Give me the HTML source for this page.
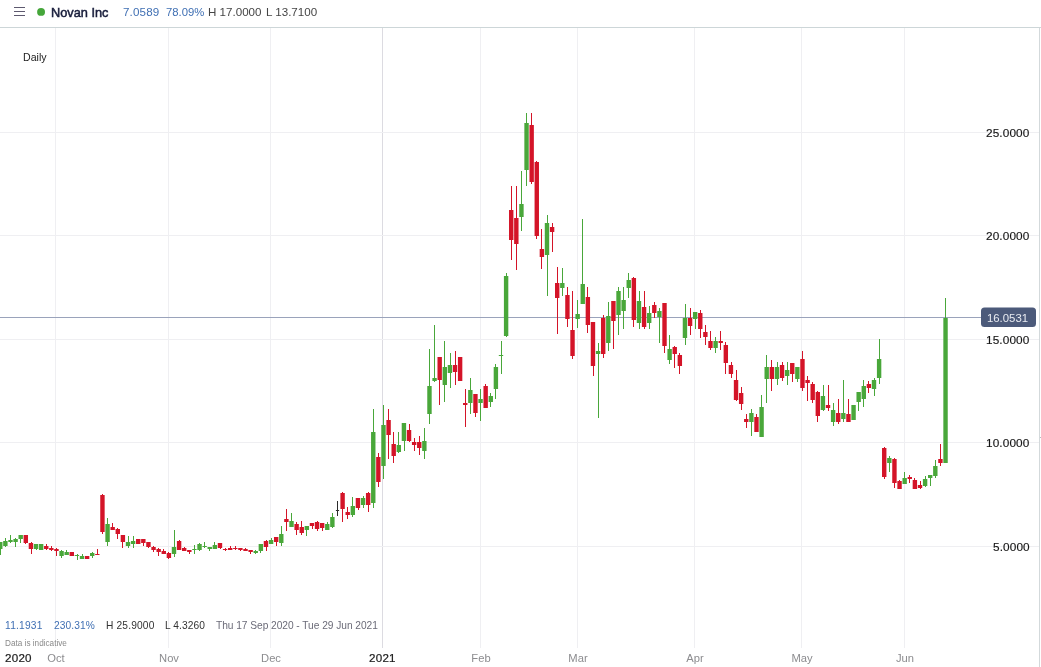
<!DOCTYPE html>
<html><head><meta charset="utf-8"><style>
*{margin:0;padding:0;box-sizing:border-box}
html,body{-webkit-font-smoothing:antialiased;width:1041px;height:667px;overflow:hidden;background:#fff;font-family:"Liberation Sans",sans-serif;}
#wrap{position:relative;width:1041px;height:667px;overflow:hidden}
.t,.yl,.ml{will-change:transform}
svg{position:absolute;left:0;top:0}
.t{position:absolute;white-space:nowrap;line-height:1}
.yl{position:absolute;right:11.3px;font-size:11.8px;letter-spacing:0.12px;color:#161616;-webkit-text-stroke:0.15px #161616;line-height:14px;white-space:nowrap}
.ml{position:absolute;top:651.4px;width:60px;text-align:center;font-size:11.2px;color:#8c8c8f;line-height:14px}
</style></head><body><div id="wrap">
<svg width="1041" height="667" viewBox="0 0 1041 667" shape-rendering="crispEdges">
<rect x="0" y="27" width="1041" height="1" fill="#cdd6d8"/>
<rect x="1039" y="28" width="1" height="639" fill="#d3d9db"/>
<rect x="1040" y="437" width="1" height="1" fill="#b8bcc0"/>
<rect x="55" y="28" width="1" height="620" fill="#efeff2"/>
<rect x="168" y="28" width="1" height="620" fill="#efeff2"/>
<rect x="270" y="28" width="1" height="620" fill="#efeff2"/>
<rect x="382" y="28" width="1" height="620" fill="#dcdbe1"/>
<rect x="480" y="28" width="1" height="620" fill="#efeff2"/>
<rect x="577" y="28" width="1" height="620" fill="#efeff2"/>
<rect x="694" y="28" width="1" height="620" fill="#efeff2"/>
<rect x="801" y="28" width="1" height="620" fill="#efeff2"/>
<rect x="904" y="28" width="1" height="620" fill="#efeff2"/>
<rect x="0" y="132" width="1039" height="1" fill="#efeff2"/>
<rect x="0" y="235" width="1039" height="1" fill="#efeff2"/>
<rect x="0" y="339" width="1039" height="1" fill="#efeff2"/>
<rect x="0" y="442" width="1039" height="1" fill="#efeff2"/>
<rect x="0" y="546" width="1039" height="1" fill="#efeff2"/>
<rect x="0" y="317" width="982" height="1" fill="#9aa3bb"/>
<rect x="0" y="542" width="1" height="13" fill="#49a73a"/>
<rect x="-1.94" y="542" width="4.4" height="7" fill="#49a73a" shape-rendering="geometricPrecision"/>
<rect x="5" y="538" width="1" height="9" fill="#49a73a"/>
<rect x="3.17" y="541" width="4.4" height="5" fill="#49a73a" shape-rendering="geometricPrecision"/>
<rect x="10" y="535" width="1" height="8" fill="#49a73a"/>
<rect x="8.28" y="540" width="4.4" height="2" fill="#49a73a" shape-rendering="geometricPrecision"/>
<rect x="15" y="538" width="1" height="9" fill="#49a73a"/>
<rect x="13.39" y="539" width="4.4" height="3" fill="#49a73a" shape-rendering="geometricPrecision"/>
<rect x="20" y="535" width="1" height="8" fill="#49a73a"/>
<rect x="18.50" y="535" width="4.4" height="4" fill="#49a73a" shape-rendering="geometricPrecision"/>
<rect x="25" y="535" width="1" height="9" fill="#d41428"/>
<rect x="23.61" y="535" width="4.4" height="8" fill="#d41428" shape-rendering="geometricPrecision"/>
<rect x="31" y="542" width="1" height="12" fill="#d41428"/>
<rect x="28.72" y="543" width="4.4" height="6" fill="#d41428" shape-rendering="geometricPrecision"/>
<rect x="36" y="544" width="1" height="6" fill="#49a73a"/>
<rect x="33.83" y="544" width="4.4" height="5" fill="#49a73a" shape-rendering="geometricPrecision"/>
<rect x="41" y="544" width="1" height="6" fill="#49a73a"/>
<rect x="38.94" y="544" width="4.4" height="6" fill="#49a73a" shape-rendering="geometricPrecision"/>
<rect x="46" y="544" width="1" height="6" fill="#d41428"/>
<rect x="44.05" y="546" width="4.4" height="3" fill="#d41428" shape-rendering="geometricPrecision"/>
<rect x="51" y="546" width="1" height="5" fill="#d41428"/>
<rect x="49.16" y="548" width="4.4" height="2" fill="#d41428" shape-rendering="geometricPrecision"/>
<rect x="56" y="548" width="1" height="8" fill="#d41428"/>
<rect x="54.27" y="549" width="4.4" height="2" fill="#d41428" shape-rendering="geometricPrecision"/>
<rect x="61" y="550" width="1" height="8" fill="#49a73a"/>
<rect x="59.37" y="551" width="4.4" height="5" fill="#49a73a" shape-rendering="geometricPrecision"/>
<rect x="66" y="550" width="1" height="5" fill="#49a73a"/>
<rect x="64.48" y="552" width="4.4" height="3" fill="#49a73a" shape-rendering="geometricPrecision"/>
<rect x="71" y="552" width="1" height="4" fill="#d41428"/>
<rect x="69.59" y="552" width="4.4" height="4" fill="#d41428" shape-rendering="geometricPrecision"/>
<rect x="77" y="554" width="1" height="6" fill="#49a73a"/>
<rect x="74.70" y="555" width="4.4" height="1" fill="#49a73a" shape-rendering="geometricPrecision"/>
<rect x="82" y="554" width="1" height="5" fill="#49a73a"/>
<rect x="79.81" y="556" width="4.4" height="3" fill="#49a73a" shape-rendering="geometricPrecision"/>
<rect x="87" y="556" width="1" height="3" fill="#d41428"/>
<rect x="84.92" y="556" width="4.4" height="3" fill="#d41428" shape-rendering="geometricPrecision"/>
<rect x="92" y="552" width="1" height="6" fill="#49a73a"/>
<rect x="90.03" y="553" width="4.4" height="3" fill="#49a73a" shape-rendering="geometricPrecision"/>
<rect x="97" y="549" width="1" height="6" fill="#d41428"/>
<rect x="95.14" y="554" width="4.4" height="1" fill="#d41428" shape-rendering="geometricPrecision"/>
<rect x="102" y="494" width="1" height="40" fill="#d41428"/>
<rect x="100.25" y="495" width="4.4" height="37" fill="#d41428" shape-rendering="geometricPrecision"/>
<rect x="107" y="518" width="1" height="28" fill="#49a73a"/>
<rect x="105.36" y="524" width="4.4" height="18" fill="#49a73a" shape-rendering="geometricPrecision"/>
<rect x="112" y="523" width="1" height="7" fill="#d41428"/>
<rect x="110.47" y="527" width="4.4" height="3" fill="#d41428" shape-rendering="geometricPrecision"/>
<rect x="117" y="528" width="1" height="11" fill="#d41428"/>
<rect x="115.58" y="529" width="4.4" height="5" fill="#d41428" shape-rendering="geometricPrecision"/>
<rect x="122" y="535" width="1" height="13" fill="#d41428"/>
<rect x="120.69" y="535" width="4.4" height="7" fill="#d41428" shape-rendering="geometricPrecision"/>
<rect x="128" y="536" width="1" height="12" fill="#49a73a"/>
<rect x="125.80" y="542" width="4.4" height="4" fill="#49a73a" shape-rendering="geometricPrecision"/>
<rect x="133" y="536" width="1" height="12" fill="#49a73a"/>
<rect x="130.91" y="541" width="4.4" height="3" fill="#49a73a" shape-rendering="geometricPrecision"/>
<rect x="138" y="539" width="1" height="5" fill="#d41428"/>
<rect x="136.02" y="539" width="4.4" height="5" fill="#d41428" shape-rendering="geometricPrecision"/>
<rect x="143" y="539" width="1" height="7" fill="#d41428"/>
<rect x="141.13" y="539" width="4.4" height="4" fill="#d41428" shape-rendering="geometricPrecision"/>
<rect x="148" y="542" width="1" height="6" fill="#d41428"/>
<rect x="146.24" y="542" width="4.4" height="5" fill="#d41428" shape-rendering="geometricPrecision"/>
<rect x="153" y="546" width="1" height="6" fill="#d41428"/>
<rect x="151.35" y="547" width="4.4" height="3" fill="#d41428" shape-rendering="geometricPrecision"/>
<rect x="158" y="548" width="1" height="8" fill="#d41428"/>
<rect x="156.46" y="549" width="4.4" height="3" fill="#d41428" shape-rendering="geometricPrecision"/>
<rect x="163" y="549" width="1" height="5" fill="#d41428"/>
<rect x="161.57" y="551" width="4.4" height="3" fill="#d41428" shape-rendering="geometricPrecision"/>
<rect x="168" y="552" width="1" height="7" fill="#d41428"/>
<rect x="166.68" y="553" width="4.4" height="5" fill="#d41428" shape-rendering="geometricPrecision"/>
<rect x="174" y="530" width="1" height="27" fill="#49a73a"/>
<rect x="171.79" y="547" width="4.4" height="7" fill="#49a73a" shape-rendering="geometricPrecision"/>
<rect x="179" y="540" width="1" height="10" fill="#d41428"/>
<rect x="176.90" y="541" width="4.4" height="9" fill="#d41428" shape-rendering="geometricPrecision"/>
<rect x="184" y="547" width="1" height="4" fill="#d41428"/>
<rect x="182.01" y="548" width="4.4" height="3" fill="#d41428" shape-rendering="geometricPrecision"/>
<rect x="189" y="550" width="1" height="4" fill="#d41428"/>
<rect x="187.11" y="550" width="4.4" height="2" fill="#d41428" shape-rendering="geometricPrecision"/>
<rect x="194" y="545" width="1" height="9" fill="#49a73a"/>
<rect x="192.22" y="549" width="4.4" height="1" fill="#49a73a" shape-rendering="geometricPrecision"/>
<rect x="199" y="543" width="1" height="8" fill="#49a73a"/>
<rect x="197.33" y="544" width="4.4" height="6" fill="#49a73a" shape-rendering="geometricPrecision"/>
<rect x="204" y="542" width="1" height="6" fill="#49a73a"/>
<rect x="202.44" y="546" width="4.4" height="1" fill="#49a73a" shape-rendering="geometricPrecision"/>
<rect x="209" y="547" width="1" height="4" fill="#49a73a"/>
<rect x="207.55" y="547" width="4.4" height="2" fill="#49a73a" shape-rendering="geometricPrecision"/>
<rect x="214" y="542" width="1" height="7" fill="#49a73a"/>
<rect x="212.66" y="545" width="4.4" height="4" fill="#49a73a" shape-rendering="geometricPrecision"/>
<rect x="220" y="543" width="1" height="6" fill="#d41428"/>
<rect x="217.77" y="543" width="4.4" height="5" fill="#d41428" shape-rendering="geometricPrecision"/>
<rect x="225" y="548" width="1" height="3" fill="#d41428"/>
<rect x="222.88" y="549" width="4.4" height="1" fill="#d41428" shape-rendering="geometricPrecision"/>
<rect x="230" y="546" width="1" height="4" fill="#d41428"/>
<rect x="227.99" y="548" width="4.4" height="2" fill="#d41428" shape-rendering="geometricPrecision"/>
<rect x="235" y="546" width="1" height="4" fill="#d41428"/>
<rect x="233.10" y="548" width="4.4" height="1" fill="#d41428" shape-rendering="geometricPrecision"/>
<rect x="240" y="548" width="1" height="3" fill="#d41428"/>
<rect x="238.21" y="548" width="4.4" height="2" fill="#d41428" shape-rendering="geometricPrecision"/>
<rect x="245" y="548" width="1" height="3" fill="#d41428"/>
<rect x="243.32" y="549" width="4.4" height="2" fill="#d41428" shape-rendering="geometricPrecision"/>
<rect x="250" y="550" width="1" height="4" fill="#d41428"/>
<rect x="248.43" y="550" width="4.4" height="2" fill="#d41428" shape-rendering="geometricPrecision"/>
<rect x="255" y="550" width="1" height="4" fill="#49a73a"/>
<rect x="253.54" y="551" width="4.4" height="2" fill="#49a73a" shape-rendering="geometricPrecision"/>
<rect x="260" y="544" width="1" height="9" fill="#49a73a"/>
<rect x="258.65" y="544" width="4.4" height="7" fill="#49a73a" shape-rendering="geometricPrecision"/>
<rect x="266" y="540" width="1" height="11" fill="#d41428"/>
<rect x="263.76" y="541" width="4.4" height="6" fill="#d41428" shape-rendering="geometricPrecision"/>
<rect x="271" y="538" width="1" height="6" fill="#49a73a"/>
<rect x="268.87" y="540" width="4.4" height="4" fill="#49a73a" shape-rendering="geometricPrecision"/>
<rect x="276" y="537" width="1" height="9" fill="#d41428"/>
<rect x="273.98" y="537" width="4.4" height="5" fill="#d41428" shape-rendering="geometricPrecision"/>
<rect x="281" y="526" width="1" height="20" fill="#49a73a"/>
<rect x="279.09" y="534" width="4.4" height="9" fill="#49a73a" shape-rendering="geometricPrecision"/>
<rect x="286" y="509" width="1" height="22" fill="#d41428"/>
<rect x="284.20" y="519" width="4.4" height="3" fill="#d41428" shape-rendering="geometricPrecision"/>
<rect x="291" y="513" width="1" height="14" fill="#49a73a"/>
<rect x="289.31" y="521" width="4.4" height="6" fill="#49a73a" shape-rendering="geometricPrecision"/>
<rect x="296" y="522" width="1" height="13" fill="#d41428"/>
<rect x="294.42" y="524" width="4.4" height="6" fill="#d41428" shape-rendering="geometricPrecision"/>
<rect x="301" y="521" width="1" height="14" fill="#d41428"/>
<rect x="299.53" y="527" width="4.4" height="6" fill="#d41428" shape-rendering="geometricPrecision"/>
<rect x="306" y="526" width="1" height="10" fill="#49a73a"/>
<rect x="304.64" y="526" width="4.4" height="4" fill="#49a73a" shape-rendering="geometricPrecision"/>
<rect x="312" y="523" width="1" height="6" fill="#d41428"/>
<rect x="309.75" y="523" width="4.4" height="3" fill="#d41428" shape-rendering="geometricPrecision"/>
<rect x="317" y="521" width="1" height="10" fill="#d41428"/>
<rect x="314.85" y="522" width="4.4" height="7" fill="#d41428" shape-rendering="geometricPrecision"/>
<rect x="322" y="523" width="1" height="8" fill="#d41428"/>
<rect x="319.96" y="523" width="4.4" height="5" fill="#d41428" shape-rendering="geometricPrecision"/>
<rect x="327" y="522" width="1" height="8" fill="#49a73a"/>
<rect x="325.07" y="524" width="4.4" height="6" fill="#49a73a" shape-rendering="geometricPrecision"/>
<rect x="332" y="513" width="1" height="15" fill="#49a73a"/>
<rect x="330.18" y="517" width="4.4" height="10" fill="#49a73a" shape-rendering="geometricPrecision"/>
<rect x="337" y="501" width="1" height="15" fill="#2b2b2b"/>
<rect x="335.89" y="510" width="3.2" height="1" fill="#2b2b2b" shape-rendering="geometricPrecision"/>
<rect x="342" y="492" width="1" height="30" fill="#d41428"/>
<rect x="340.40" y="493" width="4.4" height="16" fill="#d41428" shape-rendering="geometricPrecision"/>
<rect x="347" y="507" width="1" height="12" fill="#d41428"/>
<rect x="345.51" y="512" width="4.4" height="3" fill="#d41428" shape-rendering="geometricPrecision"/>
<rect x="352" y="497" width="1" height="20" fill="#49a73a"/>
<rect x="350.62" y="506" width="4.4" height="9" fill="#49a73a" shape-rendering="geometricPrecision"/>
<rect x="358" y="498" width="1" height="12" fill="#d41428"/>
<rect x="355.73" y="498" width="4.4" height="10" fill="#d41428" shape-rendering="geometricPrecision"/>
<rect x="363" y="496" width="1" height="12" fill="#49a73a"/>
<rect x="360.84" y="498" width="4.4" height="7" fill="#49a73a" shape-rendering="geometricPrecision"/>
<rect x="368" y="492" width="1" height="20" fill="#d41428"/>
<rect x="365.95" y="493" width="4.4" height="12" fill="#d41428" shape-rendering="geometricPrecision"/>
<rect x="373" y="409" width="1" height="99" fill="#49a73a"/>
<rect x="371.06" y="432" width="4.4" height="71" fill="#49a73a" shape-rendering="geometricPrecision"/>
<rect x="378" y="453" width="1" height="34" fill="#d41428"/>
<rect x="376.17" y="457" width="4.4" height="25" fill="#d41428" shape-rendering="geometricPrecision"/>
<rect x="383" y="405" width="1" height="74" fill="#49a73a"/>
<rect x="381.28" y="425" width="4.4" height="41" fill="#49a73a" shape-rendering="geometricPrecision"/>
<rect x="388" y="409" width="1" height="50" fill="#d41428"/>
<rect x="386.39" y="420" width="4.4" height="15" fill="#d41428" shape-rendering="geometricPrecision"/>
<rect x="393" y="432" width="1" height="31" fill="#d41428"/>
<rect x="391.50" y="444" width="4.4" height="12" fill="#d41428" shape-rendering="geometricPrecision"/>
<rect x="398" y="432" width="1" height="21" fill="#49a73a"/>
<rect x="396.61" y="445" width="4.4" height="7" fill="#49a73a" shape-rendering="geometricPrecision"/>
<rect x="404" y="423" width="1" height="28" fill="#49a73a"/>
<rect x="401.72" y="423" width="4.4" height="18" fill="#49a73a" shape-rendering="geometricPrecision"/>
<rect x="409" y="424" width="1" height="18" fill="#d41428"/>
<rect x="406.83" y="430" width="4.4" height="11" fill="#d41428" shape-rendering="geometricPrecision"/>
<rect x="414" y="438" width="1" height="13" fill="#d41428"/>
<rect x="411.94" y="442" width="4.4" height="3" fill="#d41428" shape-rendering="geometricPrecision"/>
<rect x="419" y="436" width="1" height="19" fill="#d41428"/>
<rect x="417.05" y="442" width="4.4" height="6" fill="#d41428" shape-rendering="geometricPrecision"/>
<rect x="424" y="428" width="1" height="31" fill="#49a73a"/>
<rect x="422.16" y="441" width="4.4" height="10" fill="#49a73a" shape-rendering="geometricPrecision"/>
<rect x="429" y="349" width="1" height="75" fill="#49a73a"/>
<rect x="427.27" y="386" width="4.4" height="28" fill="#49a73a" shape-rendering="geometricPrecision"/>
<rect x="434" y="325" width="1" height="57" fill="#49a73a"/>
<rect x="432.38" y="378" width="4.4" height="3" fill="#49a73a" shape-rendering="geometricPrecision"/>
<rect x="439" y="357" width="1" height="48" fill="#d41428"/>
<rect x="437.49" y="357" width="4.4" height="23" fill="#d41428" shape-rendering="geometricPrecision"/>
<rect x="444" y="341" width="1" height="61" fill="#49a73a"/>
<rect x="442.59" y="367" width="4.4" height="18" fill="#49a73a" shape-rendering="geometricPrecision"/>
<rect x="450" y="353" width="1" height="35" fill="#49a73a"/>
<rect x="447.70" y="365" width="4.4" height="8" fill="#49a73a" shape-rendering="geometricPrecision"/>
<rect x="455" y="351" width="1" height="34" fill="#d41428"/>
<rect x="452.81" y="365" width="4.4" height="7" fill="#d41428" shape-rendering="geometricPrecision"/>
<rect x="460" y="357" width="1" height="24" fill="#d41428"/>
<rect x="457.92" y="357" width="4.4" height="24" fill="#d41428" shape-rendering="geometricPrecision"/>
<rect x="465" y="389" width="1" height="38" fill="#d41428"/>
<rect x="463.03" y="403" width="4.4" height="2" fill="#d41428" shape-rendering="geometricPrecision"/>
<rect x="470" y="378" width="1" height="36" fill="#49a73a"/>
<rect x="468.14" y="390" width="4.4" height="13" fill="#49a73a" shape-rendering="geometricPrecision"/>
<rect x="475" y="394" width="1" height="23" fill="#d41428"/>
<rect x="473.25" y="394" width="4.4" height="19" fill="#d41428" shape-rendering="geometricPrecision"/>
<rect x="480" y="389" width="1" height="32" fill="#49a73a"/>
<rect x="478.36" y="399" width="4.4" height="4" fill="#49a73a" shape-rendering="geometricPrecision"/>
<rect x="485" y="384" width="1" height="24" fill="#d41428"/>
<rect x="483.47" y="386" width="4.4" height="22" fill="#d41428" shape-rendering="geometricPrecision"/>
<rect x="490" y="393" width="1" height="14" fill="#49a73a"/>
<rect x="488.58" y="396" width="4.4" height="6" fill="#49a73a" shape-rendering="geometricPrecision"/>
<rect x="495" y="364" width="1" height="35" fill="#49a73a"/>
<rect x="493.69" y="367" width="4.4" height="22" fill="#49a73a" shape-rendering="geometricPrecision"/>
<rect x="501" y="341" width="1" height="33" fill="#49a73a"/>
<rect x="498.80" y="355" width="4.4" height="1" fill="#49a73a" shape-rendering="geometricPrecision"/>
<rect x="506" y="273" width="1" height="64" fill="#49a73a"/>
<rect x="503.91" y="276" width="4.4" height="60" fill="#49a73a" shape-rendering="geometricPrecision"/>
<rect x="511" y="186" width="1" height="74" fill="#d41428"/>
<rect x="509.02" y="210" width="4.4" height="30" fill="#d41428" shape-rendering="geometricPrecision"/>
<rect x="516" y="186" width="1" height="84" fill="#d41428"/>
<rect x="514.13" y="218" width="4.4" height="26" fill="#d41428" shape-rendering="geometricPrecision"/>
<rect x="521" y="171" width="1" height="60" fill="#49a73a"/>
<rect x="519.24" y="204" width="4.4" height="13" fill="#49a73a" shape-rendering="geometricPrecision"/>
<rect x="526" y="113" width="1" height="73" fill="#49a73a"/>
<rect x="524.35" y="123" width="4.4" height="47" fill="#49a73a" shape-rendering="geometricPrecision"/>
<rect x="531" y="113" width="1" height="71" fill="#d41428"/>
<rect x="529.46" y="125" width="4.4" height="57" fill="#d41428" shape-rendering="geometricPrecision"/>
<rect x="536" y="161" width="1" height="78" fill="#d41428"/>
<rect x="534.57" y="162" width="4.4" height="74" fill="#d41428" shape-rendering="geometricPrecision"/>
<rect x="541" y="229" width="1" height="40" fill="#d41428"/>
<rect x="539.68" y="249" width="4.4" height="8" fill="#d41428" shape-rendering="geometricPrecision"/>
<rect x="547" y="215" width="1" height="81" fill="#49a73a"/>
<rect x="544.79" y="223" width="4.4" height="32" fill="#49a73a" shape-rendering="geometricPrecision"/>
<rect x="552" y="223" width="1" height="29" fill="#d41428"/>
<rect x="549.90" y="227" width="4.4" height="5" fill="#d41428" shape-rendering="geometricPrecision"/>
<rect x="557" y="267" width="1" height="67" fill="#d41428"/>
<rect x="555.01" y="283" width="4.4" height="15" fill="#d41428" shape-rendering="geometricPrecision"/>
<rect x="562" y="268" width="1" height="28" fill="#49a73a"/>
<rect x="560.12" y="283" width="4.4" height="5" fill="#49a73a" shape-rendering="geometricPrecision"/>
<rect x="567" y="287" width="1" height="40" fill="#d41428"/>
<rect x="565.23" y="295" width="4.4" height="24" fill="#d41428" shape-rendering="geometricPrecision"/>
<rect x="572" y="291" width="1" height="68" fill="#d41428"/>
<rect x="570.33" y="330" width="4.4" height="26" fill="#d41428" shape-rendering="geometricPrecision"/>
<rect x="577" y="300" width="1" height="28" fill="#49a73a"/>
<rect x="575.44" y="314" width="4.4" height="5" fill="#49a73a" shape-rendering="geometricPrecision"/>
<rect x="582" y="219" width="1" height="85" fill="#49a73a"/>
<rect x="580.55" y="284" width="4.4" height="20" fill="#49a73a" shape-rendering="geometricPrecision"/>
<rect x="587" y="287" width="1" height="46" fill="#d41428"/>
<rect x="585.66" y="297" width="4.4" height="28" fill="#d41428" shape-rendering="geometricPrecision"/>
<rect x="593" y="322" width="1" height="54" fill="#d41428"/>
<rect x="590.77" y="322" width="4.4" height="44" fill="#d41428" shape-rendering="geometricPrecision"/>
<rect x="598" y="343" width="1" height="75" fill="#49a73a"/>
<rect x="595.88" y="351" width="4.4" height="3" fill="#49a73a" shape-rendering="geometricPrecision"/>
<rect x="603" y="315" width="1" height="43" fill="#d41428"/>
<rect x="600.99" y="318" width="4.4" height="36" fill="#d41428" shape-rendering="geometricPrecision"/>
<rect x="608" y="302" width="1" height="49" fill="#49a73a"/>
<rect x="606.10" y="316" width="4.4" height="27" fill="#49a73a" shape-rendering="geometricPrecision"/>
<rect x="613" y="301" width="1" height="48" fill="#d41428"/>
<rect x="611.21" y="301" width="4.4" height="20" fill="#d41428" shape-rendering="geometricPrecision"/>
<rect x="618" y="287" width="1" height="48" fill="#49a73a"/>
<rect x="616.32" y="291" width="4.4" height="24" fill="#49a73a" shape-rendering="geometricPrecision"/>
<rect x="623" y="287" width="1" height="42" fill="#49a73a"/>
<rect x="621.43" y="300" width="4.4" height="11" fill="#49a73a" shape-rendering="geometricPrecision"/>
<rect x="628" y="273" width="1" height="25" fill="#49a73a"/>
<rect x="626.54" y="280" width="4.4" height="8" fill="#49a73a" shape-rendering="geometricPrecision"/>
<rect x="633" y="277" width="1" height="50" fill="#d41428"/>
<rect x="631.65" y="278" width="4.4" height="42" fill="#d41428" shape-rendering="geometricPrecision"/>
<rect x="639" y="291" width="1" height="38" fill="#49a73a"/>
<rect x="636.76" y="301" width="4.4" height="22" fill="#49a73a" shape-rendering="geometricPrecision"/>
<rect x="644" y="291" width="1" height="38" fill="#d41428"/>
<rect x="641.87" y="307" width="4.4" height="20" fill="#d41428" shape-rendering="geometricPrecision"/>
<rect x="649" y="306" width="1" height="23" fill="#49a73a"/>
<rect x="646.98" y="313" width="4.4" height="10" fill="#49a73a" shape-rendering="geometricPrecision"/>
<rect x="654" y="302" width="1" height="16" fill="#d41428"/>
<rect x="652.09" y="305" width="4.4" height="8" fill="#d41428" shape-rendering="geometricPrecision"/>
<rect x="659" y="308" width="1" height="35" fill="#49a73a"/>
<rect x="657.20" y="311" width="4.4" height="6" fill="#49a73a" shape-rendering="geometricPrecision"/>
<rect x="664" y="303" width="1" height="50" fill="#d41428"/>
<rect x="662.31" y="303" width="4.4" height="43" fill="#d41428" shape-rendering="geometricPrecision"/>
<rect x="669" y="335" width="1" height="29" fill="#49a73a"/>
<rect x="667.42" y="349" width="4.4" height="11" fill="#49a73a" shape-rendering="geometricPrecision"/>
<rect x="674" y="346" width="1" height="22" fill="#d41428"/>
<rect x="672.53" y="347" width="4.4" height="7" fill="#d41428" shape-rendering="geometricPrecision"/>
<rect x="679" y="353" width="1" height="21" fill="#d41428"/>
<rect x="677.64" y="355" width="4.4" height="11" fill="#d41428" shape-rendering="geometricPrecision"/>
<rect x="685" y="304" width="1" height="41" fill="#49a73a"/>
<rect x="682.75" y="318" width="4.4" height="20" fill="#49a73a" shape-rendering="geometricPrecision"/>
<rect x="690" y="308" width="1" height="27" fill="#d41428"/>
<rect x="687.86" y="318" width="4.4" height="8" fill="#d41428" shape-rendering="geometricPrecision"/>
<rect x="695" y="312" width="1" height="17" fill="#49a73a"/>
<rect x="692.97" y="312" width="4.4" height="7" fill="#49a73a" shape-rendering="geometricPrecision"/>
<rect x="700" y="310" width="1" height="28" fill="#d41428"/>
<rect x="698.07" y="313" width="4.4" height="16" fill="#d41428" shape-rendering="geometricPrecision"/>
<rect x="705" y="325" width="1" height="20" fill="#d41428"/>
<rect x="703.18" y="332" width="4.4" height="5" fill="#d41428" shape-rendering="geometricPrecision"/>
<rect x="710" y="331" width="1" height="19" fill="#d41428"/>
<rect x="708.29" y="341" width="4.4" height="7" fill="#d41428" shape-rendering="geometricPrecision"/>
<rect x="715" y="337" width="1" height="16" fill="#49a73a"/>
<rect x="713.40" y="341" width="4.4" height="7" fill="#49a73a" shape-rendering="geometricPrecision"/>
<rect x="720" y="331" width="1" height="19" fill="#d41428"/>
<rect x="718.51" y="341" width="4.4" height="2" fill="#d41428" shape-rendering="geometricPrecision"/>
<rect x="725" y="342" width="1" height="32" fill="#d41428"/>
<rect x="723.62" y="345" width="4.4" height="18" fill="#d41428" shape-rendering="geometricPrecision"/>
<rect x="731" y="362" width="1" height="16" fill="#d41428"/>
<rect x="728.73" y="365" width="4.4" height="9" fill="#d41428" shape-rendering="geometricPrecision"/>
<rect x="736" y="370" width="1" height="31" fill="#d41428"/>
<rect x="733.84" y="380" width="4.4" height="20" fill="#d41428" shape-rendering="geometricPrecision"/>
<rect x="741" y="387" width="1" height="23" fill="#d41428"/>
<rect x="738.95" y="393" width="4.4" height="11" fill="#d41428" shape-rendering="geometricPrecision"/>
<rect x="746" y="414" width="1" height="14" fill="#d41428"/>
<rect x="744.06" y="419" width="4.4" height="3" fill="#d41428" shape-rendering="geometricPrecision"/>
<rect x="751" y="409" width="1" height="27" fill="#49a73a"/>
<rect x="749.17" y="413" width="4.4" height="9" fill="#49a73a" shape-rendering="geometricPrecision"/>
<rect x="756" y="414" width="1" height="18" fill="#d41428"/>
<rect x="754.28" y="417" width="4.4" height="15" fill="#d41428" shape-rendering="geometricPrecision"/>
<rect x="761" y="395" width="1" height="42" fill="#49a73a"/>
<rect x="759.39" y="407" width="4.4" height="30" fill="#49a73a" shape-rendering="geometricPrecision"/>
<rect x="766" y="355" width="1" height="48" fill="#49a73a"/>
<rect x="764.50" y="367" width="4.4" height="12" fill="#49a73a" shape-rendering="geometricPrecision"/>
<rect x="771" y="360" width="1" height="31" fill="#d41428"/>
<rect x="769.61" y="367" width="4.4" height="12" fill="#d41428" shape-rendering="geometricPrecision"/>
<rect x="777" y="362" width="1" height="23" fill="#49a73a"/>
<rect x="774.72" y="367" width="4.4" height="12" fill="#49a73a" shape-rendering="geometricPrecision"/>
<rect x="782" y="362" width="1" height="19" fill="#d41428"/>
<rect x="779.83" y="365" width="4.4" height="13" fill="#d41428" shape-rendering="geometricPrecision"/>
<rect x="787" y="362" width="1" height="23" fill="#49a73a"/>
<rect x="784.94" y="370" width="4.4" height="6" fill="#49a73a" shape-rendering="geometricPrecision"/>
<rect x="792" y="363" width="1" height="19" fill="#d41428"/>
<rect x="790.05" y="363" width="4.4" height="11" fill="#d41428" shape-rendering="geometricPrecision"/>
<rect x="797" y="367" width="1" height="15" fill="#49a73a"/>
<rect x="795.16" y="367" width="4.4" height="12" fill="#49a73a" shape-rendering="geometricPrecision"/>
<rect x="802" y="351" width="1" height="40" fill="#d41428"/>
<rect x="800.27" y="359" width="4.4" height="29" fill="#d41428" shape-rendering="geometricPrecision"/>
<rect x="807" y="376" width="1" height="25" fill="#d41428"/>
<rect x="805.38" y="380" width="4.4" height="3" fill="#d41428" shape-rendering="geometricPrecision"/>
<rect x="812" y="382" width="1" height="21" fill="#d41428"/>
<rect x="810.49" y="384" width="4.4" height="16" fill="#d41428" shape-rendering="geometricPrecision"/>
<rect x="817" y="391" width="1" height="31" fill="#d41428"/>
<rect x="815.60" y="392" width="4.4" height="24" fill="#d41428" shape-rendering="geometricPrecision"/>
<rect x="823" y="385" width="1" height="26" fill="#49a73a"/>
<rect x="820.71" y="396" width="4.4" height="14" fill="#49a73a" shape-rendering="geometricPrecision"/>
<rect x="828" y="385" width="1" height="26" fill="#d41428"/>
<rect x="825.81" y="405" width="4.4" height="3" fill="#d41428" shape-rendering="geometricPrecision"/>
<rect x="833" y="403" width="1" height="23" fill="#49a73a"/>
<rect x="830.92" y="410" width="4.4" height="12" fill="#49a73a" shape-rendering="geometricPrecision"/>
<rect x="838" y="399" width="1" height="25" fill="#d41428"/>
<rect x="836.03" y="413" width="4.4" height="9" fill="#d41428" shape-rendering="geometricPrecision"/>
<rect x="843" y="380" width="1" height="42" fill="#49a73a"/>
<rect x="841.14" y="413" width="4.4" height="6" fill="#49a73a" shape-rendering="geometricPrecision"/>
<rect x="848" y="399" width="1" height="23" fill="#d41428"/>
<rect x="846.25" y="414" width="4.4" height="8" fill="#d41428" shape-rendering="geometricPrecision"/>
<rect x="853" y="405" width="1" height="15" fill="#49a73a"/>
<rect x="851.36" y="405" width="4.4" height="15" fill="#49a73a" shape-rendering="geometricPrecision"/>
<rect x="858" y="392" width="1" height="19" fill="#49a73a"/>
<rect x="856.47" y="392" width="4.4" height="10" fill="#49a73a" shape-rendering="geometricPrecision"/>
<rect x="863" y="380" width="1" height="27" fill="#49a73a"/>
<rect x="861.58" y="386" width="4.4" height="13" fill="#49a73a" shape-rendering="geometricPrecision"/>
<rect x="868" y="381" width="1" height="12" fill="#d41428"/>
<rect x="866.69" y="384" width="4.4" height="4" fill="#d41428" shape-rendering="geometricPrecision"/>
<rect x="874" y="378" width="1" height="18" fill="#49a73a"/>
<rect x="871.80" y="380" width="4.4" height="9" fill="#49a73a" shape-rendering="geometricPrecision"/>
<rect x="879" y="339" width="1" height="45" fill="#49a73a"/>
<rect x="876.91" y="359" width="4.4" height="19" fill="#49a73a" shape-rendering="geometricPrecision"/>
<rect x="884" y="447" width="1" height="32" fill="#d41428"/>
<rect x="882.02" y="448" width="4.4" height="29" fill="#d41428" shape-rendering="geometricPrecision"/>
<rect x="889" y="456" width="1" height="16" fill="#49a73a"/>
<rect x="887.13" y="458" width="4.4" height="5" fill="#49a73a" shape-rendering="geometricPrecision"/>
<rect x="894" y="458" width="1" height="30" fill="#d41428"/>
<rect x="892.24" y="459" width="4.4" height="24" fill="#d41428" shape-rendering="geometricPrecision"/>
<rect x="899" y="480" width="1" height="9" fill="#d41428"/>
<rect x="897.35" y="481" width="4.4" height="8" fill="#d41428" shape-rendering="geometricPrecision"/>
<rect x="904" y="472" width="1" height="12" fill="#49a73a"/>
<rect x="902.46" y="478" width="4.4" height="6" fill="#49a73a" shape-rendering="geometricPrecision"/>
<rect x="909" y="475" width="1" height="8" fill="#d41428"/>
<rect x="907.57" y="477" width="4.4" height="2" fill="#d41428" shape-rendering="geometricPrecision"/>
<rect x="914" y="478" width="1" height="11" fill="#d41428"/>
<rect x="912.68" y="480" width="4.4" height="9" fill="#d41428" shape-rendering="geometricPrecision"/>
<rect x="920" y="481" width="1" height="8" fill="#d41428"/>
<rect x="917.79" y="485" width="4.4" height="3" fill="#d41428" shape-rendering="geometricPrecision"/>
<rect x="925" y="476" width="1" height="11" fill="#49a73a"/>
<rect x="922.90" y="479" width="4.4" height="7" fill="#49a73a" shape-rendering="geometricPrecision"/>
<rect x="930" y="475" width="1" height="11" fill="#49a73a"/>
<rect x="928.01" y="475" width="4.4" height="3" fill="#49a73a" shape-rendering="geometricPrecision"/>
<rect x="935" y="460" width="1" height="18" fill="#49a73a"/>
<rect x="933.12" y="466" width="4.4" height="10" fill="#49a73a" shape-rendering="geometricPrecision"/>
<rect x="940" y="444" width="1" height="22" fill="#d41428"/>
<rect x="938.23" y="459" width="4.4" height="4" fill="#d41428" shape-rendering="geometricPrecision"/>
<rect x="945" y="298" width="1" height="165" fill="#49a73a"/>
<rect x="943.34" y="318" width="4.4" height="145" fill="#49a73a" shape-rendering="geometricPrecision"/>
<rect x="14" y="7" width="11" height="1" fill="#5d596f"/>
<rect x="14" y="11" width="11" height="1" fill="#5d596f"/>
<rect x="14" y="15" width="11" height="1" fill="#5d596f"/>
</svg>
<svg width="1041" height="667" viewBox="0 0 1041 667">
<circle cx="41.05" cy="11.9" r="3.95" fill="#45a63a"/>
<rect x="981" y="307.5" width="55" height="19.5" rx="3.5" fill="#4c5a7a"/>
</svg>
<div class="t" id="name" style="left:51.4px;top:6.5px;font-size:12.75px;color:#181d3b;-webkit-text-stroke:0.5px #181d3b">Novan Inc</div>
<div class="t" id="h1" style="left:123px;top:5.8px;font-size:11.6px;letter-spacing:0.15px;color:#3f6fb3">7.0589</div>
<div class="t" id="h2" style="left:166.2px;top:6.6px;font-size:11.3px;color:#3f6fb3">78.09%</div>
<div class="t" id="h3" style="left:208.2px;top:5.8px;font-size:11.6px;color:#454545">H 17.0000</div>
<div class="t" id="h4" style="left:266.2px;top:5.8px;font-size:11.6px;color:#454545">L 13.7100</div>
<div class="t" id="daily" style="left:22.7px;top:52.2px;font-size:10.6px;color:#222">Daily</div>
<div class="t" id="pl" style="left:979.8px;top:312.6px;width:55px;text-align:center;font-size:11.4px;color:#e8ebf1">16.0531</div>
<div class="yl" style="top:125.8px">25.0000</div>
<div class="yl" style="top:228.8px">20.0000</div>
<div class="yl" style="top:332.8px">15.0000</div>
<div class="yl" style="top:435.8px">10.0000</div>
<div class="yl" style="top:539.8px">5.0000</div>
<div class="t" id="f1" style="left:5.2px;top:620.6px;font-size:10.2px;letter-spacing:0.22px;color:#3f6fb3">11.1931</div>
<div class="t" id="f2" style="left:54.4px;top:620.6px;font-size:10.2px;letter-spacing:0.1px;color:#3f6fb3">230.31%</div>
<div class="t" id="f3" style="left:105.6px;top:620.6px;font-size:10.2px;letter-spacing:0.17px;color:#333">H 25.9000</div>
<div class="t" id="f4" style="left:164.6px;top:620.6px;font-size:10.2px;letter-spacing:0.1px;color:#333">L 4.3260</div>
<div class="t" id="f5" style="left:216px;top:620.6px;font-size:10.2px;letter-spacing:-0.04px;color:#6b6b78">Thu 17 Sep 2020 - Tue 29 Jun 2021</div>
<div class="t" id="di" style="left:4.8px;top:639.8px;font-size:8.2px;color:#8a8a8a">Data is indicative</div>
<div class="t" id="y2020" style="left:5px;top:652.0px;font-size:11.6px;letter-spacing:0.25px;color:#1a1a1a;-webkit-text-stroke:0.2px #1a1a1a">2020</div>
<div class="t" id="y2021" style="left:369px;top:652.0px;font-size:11.6px;letter-spacing:0.25px;color:#1a1a1a;-webkit-text-stroke:0.2px #1a1a1a">2021</div>
<div class="ml" style="left:25.6px">Oct</div>
<div class="ml" style="left:138.6px">Nov</div>
<div class="ml" style="left:240.6px">Dec</div>
<div class="ml" style="left:450.6px">Feb</div>
<div class="ml" style="left:547.6px">Mar</div>
<div class="ml" style="left:664.6px">Apr</div>
<div class="ml" style="left:771.6px">May</div>
<div class="ml" style="left:874.6px">Jun</div>
</div></body></html>
